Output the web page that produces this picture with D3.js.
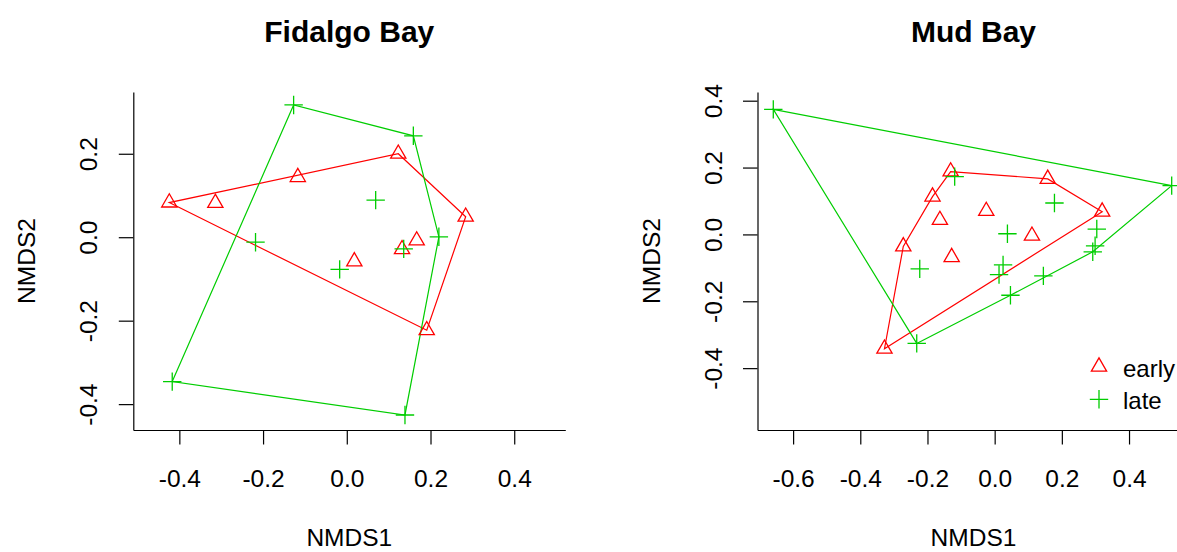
<!DOCTYPE html>
<html>
<head>
<meta charset="utf-8">
<script src="https://cdn.jsdelivr.net/npm/d3@7"></script>
<style>
  body { margin: 0; background: #fff; }
  text { font-family: "Liberation Sans", Arial, sans-serif; fill: #000; }
</style>
</head>
<body>
<script>
// NMDS scores
var titles = ["Fidalgo Bay", "Mud Bay"];
var groups = ["early", "late"];

var fidalgoEarly = [[-0.424, 0.083], [-0.314, 0.082], [-0.117, 0.144], [0.123, 0.200], [0.284, 0.049],
                    [0.191, -0.223], [0.167, -0.008], [0.132, -0.029], [0.018, -0.058]];
var fidalgoLate  = [[-0.127, 0.317], [0.159, 0.243], [0.069, 0.089], [0.220, 0.001], [0.136, -0.028],
                    [-0.218, -0.012], [-0.017, -0.077], [-0.417, -0.346], [0.139, -0.426]];

var mudEarly = [[-0.131, 0.188], [0.158, 0.166], [0.320, 0.068], [-0.185, 0.113], [-0.163, 0.043],
                [-0.025, 0.070], [0.111, -0.004], [-0.128, -0.068], [-0.272, -0.036], [-0.328, -0.342]];
var mudLate  = [[-0.659, 0.374], [0.527, 0.146], [-0.119, 0.173], [0.178, 0.094], [0.038, 0.002],
                [0.304, 0.016], [0.299, -0.034], [0.292, -0.052], [0.025, -0.091], [0.013, -0.120],
                [0.145, -0.124], [0.047, -0.182], [-0.223, -0.103], [-0.232, -0.326]];

var fidalgoXTicks = [-0.4, -0.2, 0.0, 0.2, 0.4];
var fidalgoYTicks = [-0.4, -0.2, 0.0, 0.2];
var mudXTicks = [-0.6, -0.4, -0.2, 0.0, 0.2, 0.4];
var mudYTicks = [-0.4, -0.2, 0.0, 0.2, 0.4];

// axis limits (asp = 1)
var fidalgoXLim = [-0.510, 0.522], fidalgoYLim = [-0.462, 0.348];
var mudXLim = [-0.706, 0.580], mudYLim = [-0.585, 0.426];

var width = 1177, height = 552;
var colors = ["#ff0000", "#00cd00"];

var svg = d3.select("body").append("svg")
    .attr("width", width)
    .attr("height", height);

var panels = [
  {title: titles[0], left: 133.3, series: [fidalgoEarly, fidalgoLate], xlim: fidalgoXLim, ylim: fidalgoYLim,
   xt: fidalgoXTicks, yt: fidalgoYTicks, legend: false},
  {title: titles[1], left: 757.5, series: [mudEarly, mudLate], xlim: mudXLim, ylim: mudYLim,
   xt: mudXTicks, yt: mudYTicks, legend: true}
];

var plotTop = 92, plotBottom = 430, plotW = 432;
var fmt = function(d) { return d.toFixed(1); };

function triangle(px, py, r) {
  return "M" + px + "," + (py - r) + "L" + (px + 0.866 * r) + "," + (py + r / 2) +
         "L" + (px - 0.866 * r) + "," + (py + r / 2) + "Z";
}
function plus(px, py, h) {
  return "M" + (px - h) + "," + py + "H" + (px + h) + "M" + px + "," + (py - h) + "V" + (py + h);
}

panels.forEach(function(p) {
  var x = d3.scaleLinear().domain(p.xlim).range([p.left, p.left + plotW]);
  var y = d3.scaleLinear().domain(p.ylim).range([plotBottom, plotTop]);
  var cx = p.left + plotW / 2;

  svg.append("text")
     .attr("x", cx).attr("y", 42)
     .attr("text-anchor", "middle")
     .style("font-size", "30px").style("font-weight", "bold")
     .text(p.title);

  var gx = svg.append("g")
     .attr("transform", "translate(0," + plotBottom + ")")
     .call(d3.axisBottom(x).tickValues(p.xt).tickFormat(fmt).tickSize(14.5).tickSizeOuter(0));
  gx.selectAll("text").attr("y", 56.5).attr("dy", null).style("font-size", "24.5px");

  var gy = svg.append("g")
     .attr("transform", "translate(" + p.left + ",0)")
     .call(d3.axisLeft(y).tickValues(p.yt).tickFormat(fmt).tickSize(14.5).tickSizeOuter(0));
  gy.selectAll("text")
    .attr("x", null).attr("dy", null)
    .attr("text-anchor", "middle")
    .attr("transform", "translate(-36,0) rotate(-90)")
    .style("font-size", "24.5px");

  svg.selectAll(".domain, .tick line").attr("stroke", "#000").attr("stroke-width", 1.2);

  svg.append("text")
     .attr("x", cx).attr("y", 546)
     .attr("text-anchor", "middle")
     .style("font-size", "24.5px")
     .text("NMDS1");

  svg.append("text")
     .attr("transform", "translate(" + (p.left - 98) + "," + ((plotTop + plotBottom) / 2) + ") rotate(-90)")
     .attr("text-anchor", "middle")
     .style("font-size", "24.5px")
     .text("NMDS2");

  // hulls
  p.series.forEach(function(s, i) {
    var pts = s.map(function(d) { return [x(d[0]), y(d[1])]; });
    var hull = d3.polygonHull(pts);
    svg.append("path")
       .attr("d", "M" + hull.join("L") + "Z")
       .attr("fill", "none")
       .attr("stroke", colors[i])
       .attr("stroke-width", 1.2);
  });

  // points
  p.series.forEach(function(s, i) {
    svg.append("g").selectAll("path")
       .data(s)
       .join("path")
       .attr("d", function(d) {
         return i === 0 ? triangle(x(d[0]), y(d[1]), 8.8) : plus(x(d[0]), y(d[1]), 9.2);
       })
       .attr("fill", "none")
       .attr("stroke", colors[i])
       .attr("stroke-width", 1.3);
  });

  if (p.legend) {
    var lg = svg.append("g");
    groups.forEach(function(g, i) {
      var ly = 366.7 + i * 32.6;
      lg.append("path")
        .attr("d", i === 0 ? triangle(1099, ly, 8.8) : plus(1099, ly, 9.2))
        .attr("fill", "none")
        .attr("stroke", colors[i])
        .attr("stroke-width", 1.3);
      lg.append("text")
        .attr("x", 1123).attr("y", ly + 10)
        .style("font-size", "24px")
        .text(g);
    });
  }
});
</script>
</body>
</html>
